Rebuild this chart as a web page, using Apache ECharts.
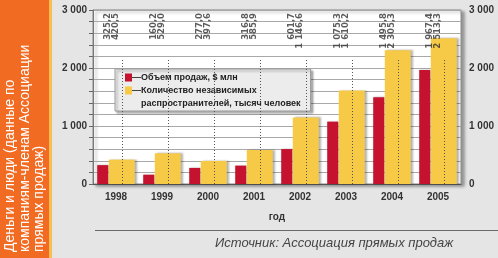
<!DOCTYPE html>
<html><head><meta charset="utf-8">
<script src="https://cdn.jsdelivr.net/npm/echarts@6/dist/echarts.min.js"></script>
<style>html,body{margin:0;padding:0;background:#e5e5e5}#c{width:498px;height:258px}</style>
</head><body><div id="c"></div>
<script>
const categories = ['1998','1999','2000','2001','2002','2003','2004','2005'];
const sales = [325.2, 160.2, 277.0, 316.8, 601.7, 1075.3, 1495.8, 1967.4];
const distributors = [420.5, 529.0, 397.6, 585.9, 1146.6, 1610.2, 2305.3, 2513.3];
const yTicks = [0, 1000, 2000, 3000];
const salesName = 'Объем продаж, $ млн';
const distName = 'Количество независимых распространителей, тысяч человек';
const guideTop = 2150;   // top end of the dotted category guides
const labelLevel = 2940; // level where the value captions start

function fmt(v){
  const s = v.toFixed(1).split('.');
  const int = s[0].replace(/\B(?=(\d{3})+(?!\d))/g, ' ');
  return int + ',' + s[1];
}
function fmtTick(v){ return yTicks.indexOf(v) >= 0 ? String(v).replace(/\B(?=(\d{3})+(?!\d))/g, ' ') : ''; }

const chart = echarts.init(document.getElementById('c'));
const boldFont = 'Liberation Sans';
const LH = 13;
chart.setOption({
  backgroundColor: '#e5e5e5',
  animation: false,
  grid: { left: 93, right: 37, top: 10, bottom: 74, show: true, backgroundColor: '#fff',
          borderColor: '#8a8a8a', borderWidth: 1,
          shadowColor: 'rgba(0,0,0,0.35)', shadowBlur: 3, shadowOffsetX: 3, shadowOffsetY: 2 },
  legend: {
    orient: 'vertical', left: 115, top: 69, itemGap: -LH,
    itemWidth: 7, itemHeight: 8,
    padding: [2, 10, 1, 10],
    backgroundColor: '#ececec', borderColor: '#9a9a9a', borderWidth: 1,
    shadowColor: 'rgba(0,0,0,0.3)', shadowBlur: 2, shadowOffsetX: 2, shadowOffsetY: 2,
    data: [
      { name: salesName, icon: 'rect' },
      { name: distName, icon: 'rect', textStyle: { padding: [LH, 0, 0, 0] } }
    ],
    formatter: function(name){
      if (name === salesName) return '{d|—}{t|' + salesName + '}';
      return '{d|—}{t|Количество независимых}\n{s|}{t|распространителей, тысяч человек}';
    },
    textStyle: {
      color: '#222', fontFamily: boldFont, fontWeight: 'bold', fontSize: 9, lineHeight: LH,
      rich: {
        d: { color: '#333', fontSize: 9, fontFamily: boldFont, width: 9, lineHeight: LH, padding: [0,0,0,-5] },
        s: { width: 4, lineHeight: LH },
        t: { color: '#222', fontFamily: boldFont, fontWeight: 'bold', fontSize: 9, lineHeight: LH }
      }
    }
  },
  xAxis: [
    { type: 'category', data: categories, position: 'bottom',
      axisLine: { lineStyle: { color: '#555', width: 1 } },
      axisTick: { show: false },
      axisLabel: { color: '#333', fontFamily: boldFont, fontWeight: 'bold', fontSize: 10, margin: 8, interval: 0 },
      name: 'год', nameLocation: 'middle', nameGap: 28,
      nameTextStyle: { color: '#333', fontFamily: boldFont, fontWeight: 'bold', fontSize: 10 } }
  ],
  yAxis: [
    { type: 'value', min: 0, max: 3000, interval: 200, position: 'left',
      axisLine: { show: true, lineStyle: { color: '#777' } },
      axisTick: { show: true, length: 4, lineStyle: { color: '#666' } },
      splitLine: { lineStyle: { color: '#a8a8a8', width: 1 } },
      axisLabel: { formatter: fmtTick, color: '#333', fontFamily: boldFont, fontWeight: 'bold', fontSize: 10, margin: 6 } },
    { type: 'value', min: 0, max: 3000, interval: 200, position: 'right',
      axisLine: { show: false }, axisTick: { show: false }, splitLine: { show: false },
      axisLabel: { formatter: fmtTick, color: '#333', fontFamily: boldFont, fontWeight: 'bold', fontSize: 10, margin: 8 } }
  ],
  series: [
    { name: salesName, type: 'bar', data: sales, barWidth: 11, barGap: '5%',
      itemStyle: { color: '#c4122f', shadowColor: 'rgba(0,0,0,0.3)', shadowBlur: 2, shadowOffsetX: 1 } },
    { name: distName, type: 'bar', data: distributors, barWidth: 26,
      itemStyle: { color: '#f6c946', shadowColor: 'rgba(0,0,0,0.3)', shadowBlur: 2, shadowOffsetX: 2 },
      markLine: { silent: true, symbol: 'none', label: { show: false },
        lineStyle: { type: [1, 2], color: '#555', width: 1 },
        data: categories.map(c => [{ coord: [c, 0] }, { coord: [c, guideTop] }]) } },
    { name: 'captions', type: 'scatter', silent: true, symbol: 'circle', symbolSize: 1,
      itemStyle: { color: 'rgba(0,0,0,0)' },
      data: categories.map(c => [c, labelLevel]),
      label: { show: true, position: [0, 0], distance: 0, rotate: 90, align: 'right', verticalAlign: 'middle',
        color: '#333', fontFamily: 'DejaVu Sans', fontWeight: 'bold', fontSize: 8.5, lineHeight: 7.5,
        formatter: function(p){ return fmt(sales[p.dataIndex]) + '\n' + fmt(distributors[p.dataIndex]) + '\n '; } } }
  ],
  graphic: [
    { type: 'rect', shape: { x: 0, y: 0, width: 49, height: 258 }, style: { fill: '#f26b22' }, silent: true },
    { type: 'rect', shape: { x: 49, y: 0, width: 3, height: 258 }, style: { fill: '#f8bd55' }, silent: true },
    { type: 'text', x: 3, y: 252, rotation: Math.PI / 2,
      style: { text: 'Деньги и люди (данные по\nкомпаниям-членам Ассоциации\nпрямых продаж)',
        fill: '#fff', font: '14px "Liberation Sans"', lineHeight: 14.5, align: 'left', verticalAlign: 'top' } },
    { type: 'line', shape: { x1: 95, y1: 230.5, x2: 498, y2: 230.5 }, style: { stroke: '#6a6a6a', lineWidth: 1 } },
    { type: 'text', x: 215, y: 243,
      style: { text: 'Источник: Ассоциация прямых продаж', fill: '#444',
        font: 'italic 13px "Liberation Sans"', align: 'left', verticalAlign: 'middle' } }
  ]
});
</script></body></html>
